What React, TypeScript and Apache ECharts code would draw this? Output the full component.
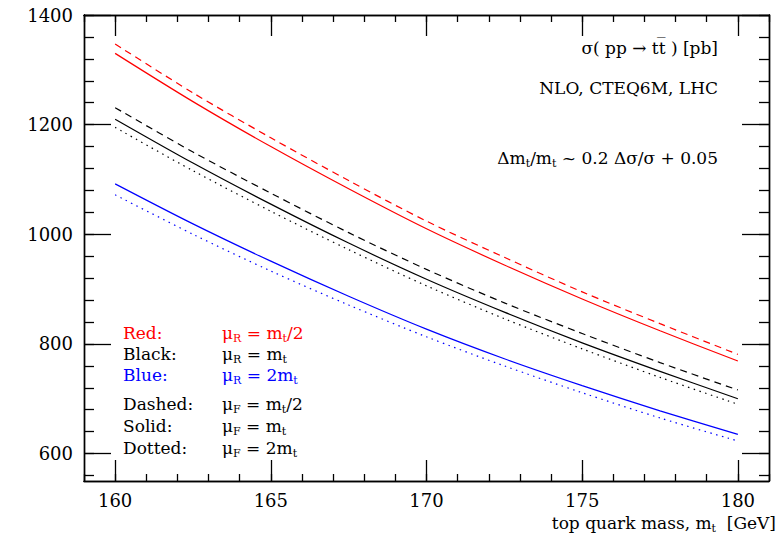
import React, { useEffect, useRef } from 'react';
import * as echarts from 'echarts';

// top quark mass (GeV)
const mass = [160, 162.5, 165, 167.5, 170, 172.5, 175, 177.5, 180];
// cross sections (pb)
const redDashed = [1347, 1258, 1176, 1098, 1024, 958, 895, 837, 781];
const redSolid = [1330, 1242, 1160, 1083, 1010, 944, 882, 824, 769];
const blackDashed = [1231, 1150, 1075, 1003, 936, 875, 819, 766, 716];
const blackSolid = [1210, 1130, 1055, 984, 918, 858, 802, 750, 700];
const blackDotted = [1195, 1116, 1042, 972, 906, 846, 791, 739, 690];
const blueSolid = [1092, 1019, 951, 887, 827, 773, 724, 678, 635];
const blueDotted = [1072, 1000, 933, 871, 813, 760, 711, 665, 623];

const xMajor = [160, 165, 170, 175, 180];
const xMinor = [159, 160, 161, 162, 163, 164, 165, 166, 167, 168, 169, 170, 171, 172, 173, 174, 175, 176, 177, 178, 179, 180, 181];
const yMajor = [600, 800, 1000, 1200, 1400];
const yMinor = [560, 600, 640, 680, 720, 760, 800, 840, 880, 920, 960, 1000, 1040, 1080, 1120, 1160, 1200, 1240, 1280, 1320, 1360, 1400];

const FONT = "'DejaVu Serif', serif";
const RED = '#ff0000';
const BLUE = '#0000ff';
const BLACK = '#000000';

export default function App() {
  const ref = useRef<HTMLDivElement>(null);
  useEffect(() => {
    const chart = echarts.init(ref.current!, null, { renderer: 'svg' });

    const axisLine = { show: true, onZero: false, lineStyle: { color: BLACK, width: 1.4 } };
    const plain = (v: number) => String(v);
    const makeX = (position: string, values: number[], len: number, label: boolean) => ({
      type: 'value', min: 159, max: 181, position,
      axisLine,
      axisTick: { show: true, inside: true, length: len, customValues: values, lineStyle: { color: BLACK, width: 1.3 } },
      axisLabel: { show: label, customValues: values, formatter: plain, color: BLACK, fontFamily: FONT, fontSize: 18, margin: 10 },
      splitLine: { show: false },
    });
    const makeY = (position: string, values: number[], len: number, label: boolean) => ({
      type: 'value', min: 550, max: 1400, position,
      axisLine,
      axisTick: { show: true, inside: true, length: len, customValues: values, lineStyle: { color: BLACK, width: 1.3 } },
      axisLabel: { show: label, customValues: values, formatter: plain, color: BLACK, fontFamily: FONT, fontSize: 18, margin: 11 },
      splitLine: { show: false },
    });

    const mk = (vals: number[], color: string, type: any) => ({
      type: 'line',
      xAxisIndex: 0,
      yAxisIndex: 0,
      data: mass.map((m, i) => [m, vals[i]]),
      showSymbol: false,
      smooth: 0.3,
      lineStyle: { color, width: 1.2, type },
      silent: true,
    });
    const DASH = [7, 5];
    const DOT = [1.5, 4.5];

    const sub = { fontSize: 11, fontFamily: FONT, padding: [10, 0, 0, 0] };
    const txt = (x: number, y: number, text: string, color: string, align: string) => ({
      type: 'text', x, y,
      style: {
        text, fill: color, fontFamily: FONT, fontSize: 17, align, verticalAlign: 'middle',
        rich: { s: { ...sub, fill: color } },
      },
    });

    chart.setOption({
      animation: false,
      backgroundColor: '#ffffff',
      grid: { left: 84, right: 10, top: 15, bottom: 59, containLabel: false },
      xAxis: [
        makeX('bottom', xMajor, 21, true),
        makeX('bottom', xMinor, 7, false),
        makeX('top', xMajor, 21, false),
        makeX('top', xMinor, 7, false),
      ],
      yAxis: [
        makeY('left', yMajor, 27, true),
        makeY('left', yMinor, 10, false),
        makeY('right', yMajor, 27, false),
        makeY('right', yMinor, 10, false),
      ],
      series: [
        mk(redDashed, RED, DASH),
        mk(redSolid, RED, 'solid'),
        mk(blackDashed, BLACK, DASH),
        mk(blackSolid, BLACK, 'solid'),
        mk(blackDotted, BLACK, DOT),
        mk(blueSolid, BLUE, 'solid'),
        mk(blueDotted, BLUE, DOT),
      ],
      graphic: [
        txt(718, 48, 'σ( pp → tt\u0305 ) [pb]', BLACK, 'right'),
        txt(718, 88, 'NLO, CTEQ6M, LHC', BLACK, 'right'),
        txt(718, 158, 'Δm{s|t}/m{s|t} ~ 0.2 Δσ/σ + 0.05', BLACK, 'right'),
        txt(123, 333, 'Red:', RED, 'left'),
        txt(222, 333, 'μ{s|R} = m{s|t}/2', RED, 'left'),
        txt(123, 354, 'Black:', BLACK, 'left'),
        txt(222, 354, 'μ{s|R} = m{s|t}', BLACK, 'left'),
        txt(123, 375, 'Blue:', BLUE, 'left'),
        txt(222, 375, 'μ{s|R} = 2m{s|t}', BLUE, 'left'),
        txt(123, 404, 'Dashed:', BLACK, 'left'),
        txt(222, 404, 'μ{s|F} = m{s|t}/2', BLACK, 'left'),
        txt(123, 426, 'Solid:', BLACK, 'left'),
        txt(222, 426, 'μ{s|F} = m{s|t}', BLACK, 'left'),
        txt(123, 448, 'Dotted:', BLACK, 'left'),
        txt(222, 448, 'μ{s|F} = 2m{s|t}', BLACK, 'left'),
        txt(776, 523, 'top quark mass, m{s|t}  [GeV]', BLACK, 'right'),
      ],
    });
    return () => chart.dispose();
  }, []);
  return (
    <div
      ref={ref}
      style={{ position: 'absolute', left: 0, top: 0, width: 779, height: 540, background: '#ffffff' }}
    />
  );
}
